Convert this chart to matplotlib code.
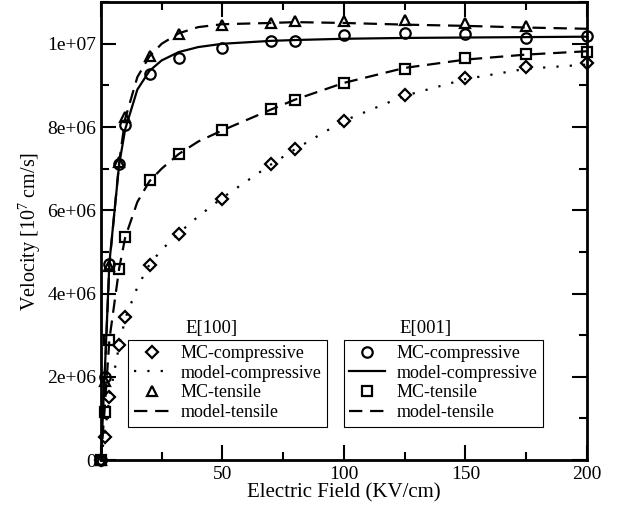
import matplotlib
matplotlib.use("Agg")
import matplotlib.pyplot as plt
from matplotlib.ticker import MultipleLocator, FuncFormatter

plt.rcParams['font.family'] = ['Liberation Serif', 'DejaVu Serif']
plt.rcParams['mathtext.fontset'] = 'custom'
plt.rcParams['mathtext.rm'] = 'Liberation Serif'
plt.rcParams['mathtext.it'] = 'Liberation Serif:italic'

# Monte Carlo field points (KV/cm)
x_mc = [0, 1.5, 3.5, 7.5, 10, 20, 32, 50, 70, 80, 100, 125, 150, 175, 200]

# E[100]
mc_comp_100 = [0, 0.55e6, 1.51e6, 2.76e6, 3.43e6, 4.68e6, 5.44e6, 6.28e6,
               7.1e6, 7.48e6, 8.15e6, 8.76e6, 9.18e6, 9.45e6, 9.54e6]
x_tens_100 = [0, 1.5, 3.5, 7.5, 10, 20, 32, 50, 70, 80, 100, 125, 150, 175]
mc_tens_100 = [0, 1.9e6, 4.65e6, 7.15e6, 8.23e6, 9.71e6, 10.24e6, 10.46e6,
               10.49e6, 10.54e6, 10.55e6, 10.57e6, 10.49e6, 10.43e6]

# E[001]
mc_comp_001 = [0, 2.0e6, 4.72e6, 7.12e6, 8.06e6, 9.28e6, 9.66e6, 9.89e6,
               10.06e6, 10.07e6, 10.21e6, 10.26e6, 10.23e6, 10.15e6, 10.19e6]
mc_tens_001 = [0, 1.15e6, 2.88e6, 4.6e6, 5.35e6, 6.72e6, 7.34e6, 7.92e6,
               8.43e6, 8.66e6, 9.05e6, 9.4e6, 9.67e6, 9.76e6, 9.8e6]

# model curves
x_model = [0, 1.5, 3.5, 7.5, 10, 15, 20, 25, 32, 40, 50, 70, 80, 100, 125, 150, 175, 200]
model_comp_100 = [0, 0.6e6, 1.5e6, 2.75e6, 3.4e6, 4.15e6, 4.7e6, 5.05e6, 5.45e6,
                  5.85e6, 6.3e6, 7.1e6, 7.47e6, 8.15e6, 8.75e6, 9.15e6, 9.4e6, 9.5e6]
model_tens_100 = [0, 1.95e6, 4.7e6, 7.15e6, 8.2e6, 9.2e6, 9.7e6, 10.0e6, 10.25e6,
                  10.4e6, 10.47e6, 10.5e6, 10.52e6, 10.5e6, 10.46e6, 10.43e6, 10.39e6, 10.36e6]
model_comp_001 = [0, 2.0e6, 4.75e6, 7.1e6, 7.95e6, 8.9e6, 9.35e6, 9.6e6, 9.8e6,
                  9.92e6, 10.0e6, 10.07e6, 10.09e6, 10.12e6, 10.14e6, 10.15e6, 10.16e6, 10.17e6]
model_tens_001 = [0, 1.2e6, 2.9e6, 4.6e6, 5.35e6, 6.2e6, 6.7e6, 7.0e6, 7.35e6,
                  7.65e6, 7.92e6, 8.42e6, 8.66e6, 9.06e6, 9.42e6, 9.62e6, 9.74e6, 9.82e6]

fig = plt.figure(figsize=(6.23, 5.11), dpi=100)
ax = fig.add_axes([0.162, 0.0998, 0.780, 0.896])

lw = 1.6
ms = 7.5
mk = dict(color='k', markerfacecolor='none', markeredgewidth=1.6,
          markersize=ms, linestyle='none', clip_on=False)
dash = (0, (6, 3.5))
dots = (0, (1, 5))

ax.plot(x_model, model_comp_100, color='k', lw=lw, ls=dots)
ax.plot(x_model, model_tens_100, color='k', lw=lw, ls=dash)
ax.plot(x_model, model_comp_001, color='k', lw=lw, ls='-')
ax.plot(x_model, model_tens_001, color='k', lw=lw, ls=dash)

ax.plot(x_mc, mc_comp_100, marker='D', **dict(mk, markersize=6))
ax.plot(x_tens_100, mc_tens_100, marker='^', **mk)
ax.plot(x_mc, mc_comp_001, marker='o', **mk)
ax.plot(x_mc, mc_tens_001, marker='s', **dict(mk, markersize=7))

ax.set_xlim(0, 200)
ax.set_ylim(0, 1.1e7)
ax.set_xticks([0, 50, 100, 150, 200])
ax.set_xticklabels(['', '50', '100', '150', '200'])
ax.xaxis.set_minor_locator(MultipleLocator(25))
ax.yaxis.set_major_locator(MultipleLocator(2e6))
ax.yaxis.set_minor_locator(MultipleLocator(1e6))
ax.yaxis.set_major_formatter(FuncFormatter(lambda v, p: '%g' % v))

ax.tick_params(which='both', direction='in', top=True, right=True, labelsize=14, width=1.5)
ax.tick_params(which='major', length=11)
ax.tick_params(which='minor', length=5.5)
ax.tick_params(axis='x', pad=4)
for s in ax.spines.values():
    s.set_linewidth(2)

ax.set_xlabel('Electric Field (KV/cm)', fontsize=15, labelpad=0.5)
ax.set_ylabel('Velocity [10$^7$ cm/s]', fontsize=14.5, labelpad=3)

# two legends, one per field direction
def entry(**kw):
    return plt.Line2D([], [], color='k', **kw)

h100 = [entry(marker='D', markersize=6, markerfacecolor='none', markeredgewidth=1.6, ls='none'),
        entry(lw=lw, ls=dots),
        entry(marker='^', markersize=ms, markerfacecolor='none', markeredgewidth=1.6, ls='none'),
        entry(lw=lw, ls=dash)]
h001 = [entry(marker='o', markersize=ms, markerfacecolor='none', markeredgewidth=1.6, ls='none'),
        entry(lw=lw, ls='-'),
        entry(marker='s', markersize=7, markerfacecolor='none', markeredgewidth=1.6, ls='none'),
        entry(lw=lw, ls=dash)]
labels = ['MC-compressive', 'model-compressive', 'MC-tensile', 'model-tensile']

leg_kw = dict(loc='lower left', fontsize=13, frameon=True, fancybox=False,
              borderaxespad=0, handlelength=2.0, handletextpad=0.6,
              labelspacing=0.15, borderpad=0.3, framealpha=1)
leg1 = ax.legend(h100, labels, bbox_to_anchor=(0.056, 0.073), **leg_kw)
leg1.get_frame().set_edgecolor('k')
leg1.get_frame().set_linewidth(0.8)
ax.add_artist(leg1)
leg2 = ax.legend(h001, labels, bbox_to_anchor=(0.5, 0.073), **leg_kw)
leg2.get_frame().set_edgecolor('k')
leg2.get_frame().set_linewidth(0.8)

ax.text(0.228, 0.288, 'E[100]', transform=ax.transAxes, ha='center', va='center', fontsize=13.5)
ax.text(0.667, 0.288, 'E[001]', transform=ax.transAxes, ha='center', va='center', fontsize=13.5)

fig.savefig('out.png', dpi=100)
